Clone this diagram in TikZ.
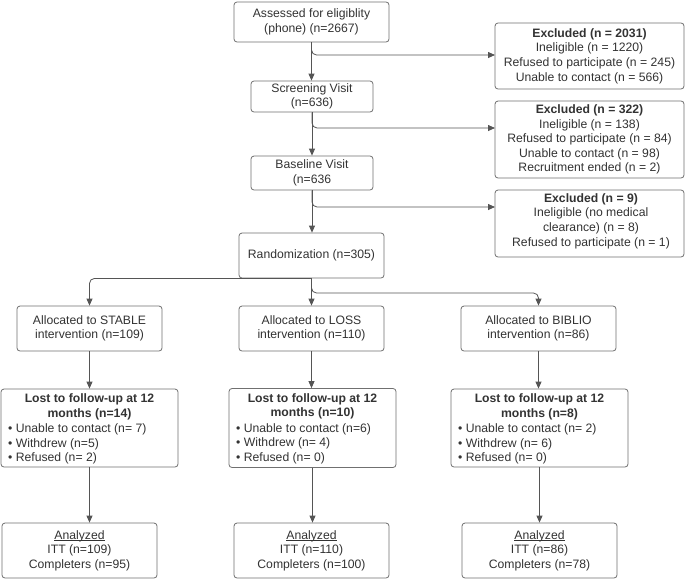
\documentclass[tikz,border=0pt]{standalone}
\usepackage{fontspec}
\setmainfont{Liberation Sans}
\usetikzlibrary{arrows.meta}
\definecolor{edgec}{HTML}{707070}
\definecolor{txtc}{HTML}{333333}
\definecolor{arrc}{HTML}{555555}
\newcommand{\myul}[1]{\setbox0\hbox{#1}\rlap{\rule[-1.8pt]{\wd0}{0.6pt}}\box0}
\begin{document}
\begin{tikzpicture}[x=1pt,y=-1pt,
 box/.style={draw=edgec, line width=0.8pt, rounded corners=3pt, align=center, inner sep=0pt, text=txtc, font=\fontsize{12.2}{14.6}\selectfont},
 txtnode/.style={inner sep=0pt, text=txtc, font=\fontsize{12.2}{14.6}\selectfont},
 boldtxt/.style={inner sep=0pt, text=txtc, align=center, font=\fontsize{12.2}{14.6}\selectfont\bfseries},
 conn/.style={draw=arrc, line width=0.8pt, -{Triangle[length=7pt,width=6pt]}, rounded corners=5pt}]
\useasboundingbox[fill=white] (0,0) rectangle (685,579);

% main column
\node[box, minimum width=155pt, minimum height=40pt] (assess) at (311.5,22) {Assessed for eligiblity\\(phone) (n=2667)};
\node[box, minimum width=122pt, minimum height=31pt] (screen) at (312,96.5) {Screening Visit\\(n=636)};
\node[box, minimum width=122pt, minimum height=34pt] (base) at (312,173) {Baseline Visit\\(n=636};
\node[box, minimum width=145pt, minimum height=45pt] (rand) at (311.5,255.5) {Randomization (n=305)};

% excluded boxes
\node[box, minimum width=189pt, minimum height=66pt] (ex1) at (589.5,56) {\textbf{Excluded (n = 2031)}\\Ineligible (n = 1220)\\Refused to participate (n = 245)\\Unable to contact (n = 566)};
\node[box, minimum width=189pt, minimum height=77pt] (ex2) at (589.5,139.5) {\textbf{Excluded (n = 322)}\\Ineligible (n = 138)\\Refused to participate (n = 84)\\Unable to contact (n = 98)\\Recruitment ended (n = 2)};
\node[box, minimum width=189pt, minimum height=67pt] (ex3) at (589.5,223.5) {};
\node[txtnode, align=center] (ex3t) at (591,221) {\textbf{Excluded (n = 9)}\\Ineligible (no medical\\clearance) (n = 8)\\Refused to participate (n = 1)};

% allocation
\node[box, minimum width=145pt, minimum height=45pt] (allocS) at (89.5,328.5) {Allocated to STABLE\\intervention (n=109)};
\node[box, minimum width=145pt, minimum height=45pt] (allocL) at (311.5,328.5) {Allocated to LOSS\\intervention (n=110)};
\node[box, minimum width=155pt, minimum height=45pt] (allocB) at (538.5,328.5) {Allocated to BIBLIO\\intervention (n=86)};

% lost to follow-up
\node[box, minimum width=177pt, minimum height=78pt] (lostS) at (89.5,428) {};
\node[boldtxt] (lostSt) at (89.5,407) {Lost to follow-up at 12\\months (n=14)};
\node[txtnode, align=left, anchor=west] (lostSb) at (8,444) {• Unable to contact (n= 7)\\• Withdrew (n=5)\\• Refused (n= 2)};

\node[box, minimum width=167pt, minimum height=79pt] (lostL) at (312.5,428) {};
\node[boldtxt] (lostLt) at (312.5,406.5) {Lost to follow-up at 12\\months (n=10)};
\node[txtnode, align=left, anchor=west] (lostLb) at (236,443.5) {• Unable to contact (n=6)\\• Withdrew (n= 4)\\• Refused (n= 0)};

\node[box, minimum width=177pt, minimum height=78pt] (lostB) at (539.5,428) {};
\node[boldtxt] (lostBt) at (539.5,407) {Lost to follow-up at 12\\months (n=8)};
\node[txtnode, align=left, anchor=west] (lostBb) at (458,444) {• Unable to contact (n= 2)\\• Withdrew (n= 6)\\• Refused (n= 0)};

% analyzed
\node[box, minimum width=155pt, minimum height=55pt] (anS) at (79.5,550.5) {\myul{Analyzed}\\ITT (n=109)\\Completers (n=95)};
\node[box, minimum width=155pt, minimum height=55pt] (anL) at (311.5,550.5) {\myul{Analyzed}\\ITT (n=110)\\Completers (n=100)};
\node[box, minimum width=155pt, minimum height=55pt] (anB) at (539.5,550.5) {\myul{Analyzed}\\ITT (n=86)\\Completers (n=78)};

% branch coordinates
\coordinate (b1) at (495,55);
\coordinate (b2) at (495,128);
\coordinate (b3) at (495,207);
\coordinate (rb) at (538.5,293);

% connectors
\draw[conn] (assess.south) -- (assess.south |- screen.north);
\draw[conn] (assess.south) |- (b1);
\draw[conn] (screen.south) -- (base.north);
\draw[conn] (screen.south) |- (b2);
\draw[conn] (base.south) -- (base.south |- rand.north);
\draw[conn] (base.south) |- (b3);
\draw[conn] (rand.south) -| (allocS.north);
\draw[conn] (rand.south) -- (allocL.north);
\draw[conn] (rand.south) |- (rb) -- (allocB.north);
\draw[conn] (allocS.south) -- (lostS.north);
\draw[conn] (allocL.south) -- (allocL.south |- lostL.north);
\draw[conn] (allocB.south) -- (allocB.south |- lostB.north);
\draw[conn] (lostS.south) -- (lostS.south |- anS.north);
\draw[conn] (lostL.south) -- (lostL.south |- anL.north);
\draw[conn] (lostB.south) -- (lostB.south |- anB.north);
\end{tikzpicture}
\end{document}
